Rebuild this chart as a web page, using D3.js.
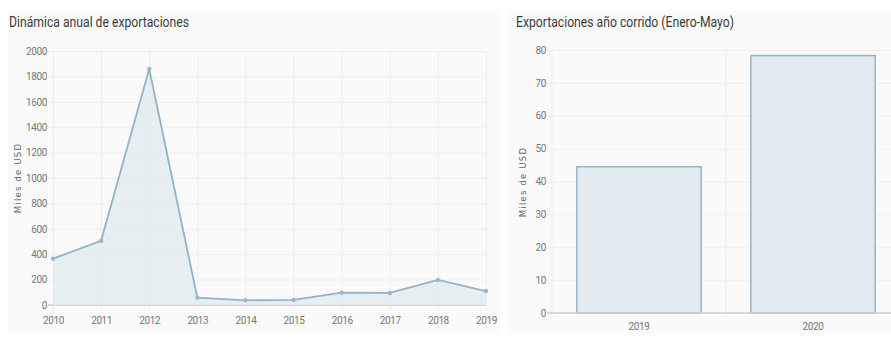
<!DOCTYPE html>
<html>
<head>
<meta charset="utf-8">
<script src="https://cdn.jsdelivr.net/npm/d3@7"></script>
<style>
  body { margin: 0; background: #fff; }
  svg { display: block; }
  .tick text { font-family: "Roboto", sans-serif; font-size: 10px; fill: #777; letter-spacing: -0.4px; }
  .title { font-family: "Roboto", sans-serif; font-size: 14px; fill: #3a3a3a; }
  .ytitle { font-family: "DejaVu Sans", sans-serif; font-size: 8.5px; fill: #666; letter-spacing: 1.2px; }
</style>
</head>
<body>
<svg id="svg" width="891" height="337"></svg>
<script>
const years = ['2010', '2011', '2012', '2013', '2014', '2015', '2016', '2017', '2018', '2019'];
const annualValues = [365, 505, 1858, 57, 37, 40, 97, 95, 197, 110];
const annualTicks = [0, 200, 400, 600, 800, 1000, 1200, 1400, 1600, 1800, 2000];

const periods = ['2019', '2020'];
const periodValues = [44.5, 78.3];
const periodTicks = [0, 10, 20, 30, 40, 50, 60, 70, 80];

const lineColor = '#93b3c7';
const areaColor = '#e3ebf0';
const gridColor = '#eeeeee';

const svg = d3.select('#svg');

// panels
svg.append('rect').attr('x', 8).attr('y', 10).attr('width', 492).attr('height', 323).style('fill', '#fafafa');
svg.append('rect').attr('x', 508).attr('y', 10).attr('width', 383).attr('height', 323).style('fill', '#fafafa');

// ---------- left: line chart ----------
let x = d3.scalePoint().domain(years).range([53, 486]);
let y = d3.scaleLinear().domain([0, 2000]).range([305, 51]);

let left = svg.append('g');

left.append('g')
    .attr('transform', 'translate(53,0)')
    .call(d3.axisLeft(y).tickValues(annualTicks).tickFormat(d3.format('d')).tickSize(-433).tickSizeOuter(0))
    .call(g => g.select('.domain').remove())
    .call(g => g.selectAll('.tick line').style('stroke', gridColor).attr('x1', -5))
    .call(g => g.selectAll('.tick text').attr('x', -6));

left.append('g')
    .attr('transform', 'translate(0,305)')
    .call(d3.axisBottom(x).tickSize(-254).tickSizeOuter(0))
    .call(g => g.select('.domain').remove())
    .call(g => g.selectAll('.tick line').style('stroke', gridColor).attr('y1', 5))
    .call(g => g.selectAll('.tick text').attr('y', 12));

left.append('line')
    .attr('x1', 48).attr('x2', 486).attr('y1', y(0)).attr('y2', y(0))
    .style('stroke', '#d0d0d0').style('stroke-width', 1.5);

let pts = years.map((d, i) => [d, annualValues[i]]);

left.append('path')
    .datum(pts)
    .attr('d', d3.area().x(d => x(d[0])).y0(y(0)).y1(d => y(d[1])))
    .style('fill', areaColor)
    .style('fill-opacity', 0.85);

left.append('path')
    .datum(pts)
    .attr('d', d3.line().x(d => x(d[0])).y(d => y(d[1])))
    .style('fill', 'none')
    .style('stroke', lineColor)
    .style('stroke-width', 1.8);

left.selectAll('.dot')
    .data(pts)
    .enter()
    .append('circle')
        .attr('class', 'dot')
        .attr('cx', d => x(d[0]))
        .attr('cy', d => y(d[1]))
        .attr('r', 2.2)
        .style('fill', '#9bb8ca');

left.append('text')
    .attr('class', 'title')
    .attr('x', 9).attr('y', 27)
    .attr('textLength', 180).attr('lengthAdjust', 'spacingAndGlyphs')
    .text('Dinámica anual de exportaciones');

left.append('text')
    .attr('class', 'ytitle')
    .attr('transform', 'translate(21,178) rotate(-90)')
    .attr('text-anchor', 'middle')
    .text('Miles de USD');

// ---------- right: bar chart ----------
let xb = d3.scaleBand().domain(periods).range([552, 900]).paddingInner(0.286).paddingOuter(0.143);
let yb = d3.scaleLinear().domain([0, 80]).range([313, 50]);
let step = xb.step();

let right = svg.append('g');

right.append('g')
    .attr('transform', 'translate(552,0)')
    .call(d3.axisLeft(yb).tickValues(periodTicks).tickSize(-348).tickSizeOuter(0))
    .call(g => g.select('.domain').remove())
    .call(g => g.selectAll('.tick line').style('stroke', gridColor).attr('x1', -5))
    .call(g => g.selectAll('.tick text').attr('x', -6));

// vertical separators between categories
right.selectAll('.sep')
    .data(d3.range(periods.length + 1))
    .enter()
    .append('line')
        .attr('class', 'sep')
        .attr('x1', i => 552 + i * step).attr('x2', i => 552 + i * step)
        .attr('y1', 50).attr('y2', 318)
        .style('stroke', gridColor);

right.append('g')
    .attr('transform', 'translate(0,313)')
    .call(d3.axisBottom(xb).tickSize(0).tickSizeOuter(0))
    .call(g => g.select('.domain').remove())
    .call(g => g.selectAll('.tick text').attr('y', 10));

right.selectAll('.bar')
    .data(periods.map((d, i) => [d, periodValues[i]]))
    .enter()
    .append('rect')
        .attr('class', 'bar')
        .attr('x', d => xb(d[0]))
        .attr('y', d => yb(d[1]))
        .attr('width', xb.bandwidth())
        .attr('height', d => yb(0) - yb(d[1]))
        .style('fill', areaColor)
        .style('stroke', lineColor)
        .style('stroke-width', 1.5);

right.append('line')
    .attr('x1', 547).attr('x2', 891).attr('y1', yb(0)).attr('y2', yb(0))
    .style('stroke', '#d0d0d0').style('stroke-width', 1.5);

right.append('text')
    .attr('class', 'title')
    .attr('x', 516).attr('y', 27)
    .attr('textLength', 218).attr('lengthAdjust', 'spacingAndGlyphs')
    .text('Exportaciones año corrido (Enero-Mayo)');

right.append('text')
    .attr('class', 'ytitle')
    .attr('transform', 'translate(526,182) rotate(-90)')
    .attr('text-anchor', 'middle')
    .text('Miles de USD');
</script>
</body>
</html>
